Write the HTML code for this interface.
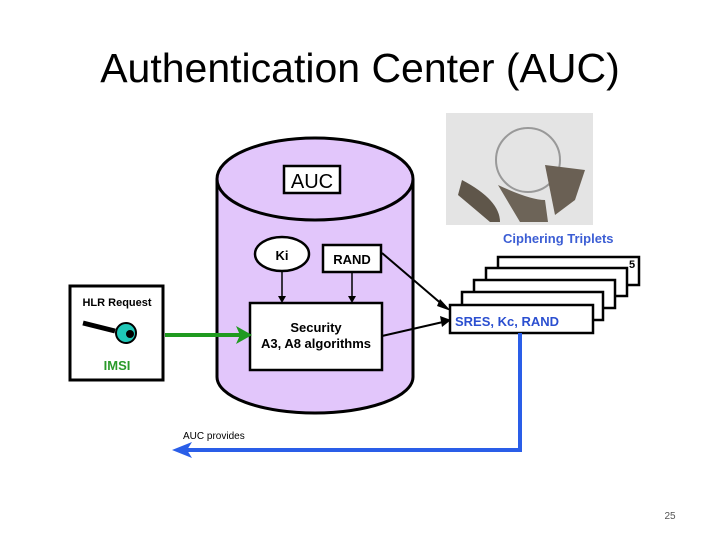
<!DOCTYPE html>
<html><head><style>
body{margin:0;background:#fff;}
svg{display:block;font-family:"Liberation Sans",Arial,sans-serif;}
</style></head><body>
<svg width="720" height="540" viewBox="0 0 720 540">
<text x="360" y="82" text-anchor="middle" font-size="41" fill="#000">Authentication Center (AUC)</text>
<!-- cylinder -->
<path d="M217,179 L217,377 A98,36 0 0 0 413,377 L413,179 A98,41 0 0 0 217,179 Z" fill="#e2c6fb" stroke="#000" stroke-width="3"/>
<path d="M217,179 A98,41 0 0 0 413,179" fill="none" stroke="#000" stroke-width="3"/>
<rect x="284" y="166" width="56" height="27" fill="#fff" stroke="#000" stroke-width="2.5"/>
<text x="312" y="188" text-anchor="middle" font-size="20" fill="#000">AUC</text>
<ellipse cx="282" cy="254" rx="27" ry="17" fill="#fff" stroke="#000" stroke-width="2.5"/>
<text x="282" y="260" text-anchor="middle" font-size="13" font-weight="bold">Ki</text>
<rect x="323" y="245" width="58" height="27" fill="#fff" stroke="#000" stroke-width="2.5"/>
<text x="352" y="264" text-anchor="middle" font-size="13" font-weight="bold">RAND</text>
<line x1="282" y1="272" x2="282" y2="298" stroke="#000" stroke-width="1.5"/>
<polygon points="278,296 286,296 282,303" fill="#000"/>
<line x1="352" y1="272" x2="352" y2="298" stroke="#000" stroke-width="1.5"/>
<polygon points="348,296 356,296 352,303" fill="#000"/>
<rect x="250" y="303" width="132" height="67" fill="#fff" stroke="#000" stroke-width="2.5"/>
<text x="316" y="332" text-anchor="middle" font-size="13" font-weight="bold">Security</text>
<text x="316" y="348" text-anchor="middle" font-size="13" font-weight="bold">A3, A8 algorithms</text>
<!-- HLR -->
<rect x="70" y="286" width="93" height="94" fill="#fff" stroke="#000" stroke-width="3"/>
<text x="117" y="306" text-anchor="middle" font-size="11" font-weight="bold">HLR Request</text>
<line x1="83" y1="323" x2="115" y2="331" stroke="#000" stroke-width="5"/>
<circle cx="126" cy="333" r="10" fill="#1fc7b7" stroke="#000" stroke-width="2"/>
<circle cx="130" cy="334" r="4" fill="#000"/>
<text x="117" y="370" text-anchor="middle" font-size="13" font-weight="bold" fill="#2a9a2a">IMSI</text>
<line x1="165" y1="335" x2="240" y2="335" stroke="#1f9a1f" stroke-width="4"/>
<polygon points="236,326 252,335 236,344 240,335" fill="#1f9a1f"/>
<!-- photo placeholder -->
<rect x="446" y="113" width="147" height="112" fill="#e4e4e4"/>
<circle cx="528" cy="160" r="32" fill="none" stroke="#999" stroke-width="2"/>
<path d="M462,180 Q500,200 500,222 L490,222 Q470,205 458,195 Z" fill="#5f564a"/>
<path d="M498,185 Q530,200 545,200 L548,222 L520,222 Z" fill="#6d6458"/>
<path d="M545,165 L585,170 L575,200 L555,215 Z" fill="#6a6054"/>
<text x="503" y="243" font-size="13" font-weight="bold" fill="#3c5ed4">Ciphering Triplets</text>
<!-- triplets stack -->
<g fill="#fff" stroke="#000" stroke-width="2.5">
<rect x="498" y="257" width="141" height="28"/>
<rect x="486" y="268" width="141" height="28"/>
<rect x="474" y="280" width="141" height="28"/>
<rect x="462" y="292" width="141" height="28"/>
<rect x="450" y="305" width="143" height="28"/>
</g>
<text x="629" y="268" font-size="11" font-weight="bold">5</text>
<text x="455" y="326" font-size="13" font-weight="bold" fill="#2b4fd0">SRES, Kc, RAND</text>
<line x1="382" y1="253" x2="444" y2="306" stroke="#000" stroke-width="2"/>
<polygon points="440,299 451,311 437,306" fill="#000"/>
<line x1="382" y1="336" x2="443" y2="322" stroke="#000" stroke-width="2"/>
<polygon points="440,316 451,320 442,327" fill="#000"/>
<!-- blue return -->
<polyline points="520,333 520,450 186,450" fill="none" stroke="#2a5ee8" stroke-width="4"/>
<polygon points="172,450 192,442 187,450 192,458" fill="#2a5ee8"/>
<text x="183" y="439" font-size="10">AUC provides</text>
<text x="670" y="519" text-anchor="middle" font-size="10" fill="#555">25</text>
</svg>
</body></html>
